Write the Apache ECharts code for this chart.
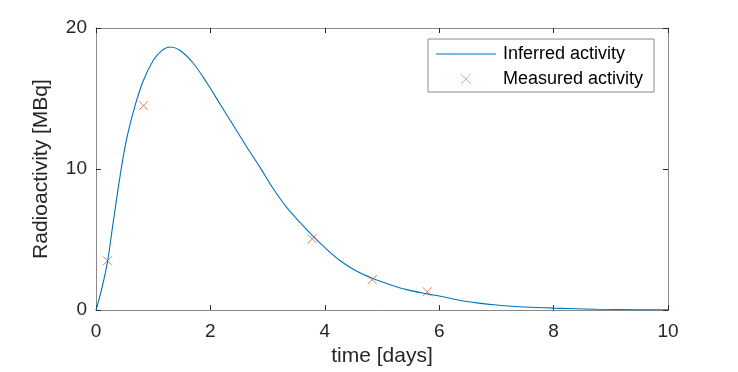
<!DOCTYPE html>
<html>
<head>
<meta charset="utf-8">
<script src="https://cdn.jsdelivr.net/npm/echarts@6/dist/echarts.min.js"></script>
<style>html,body{margin:0;padding:0;background:#fff;}#c{width:738px;height:372px;}</style>
</head>
<body>
<div id="c"></div>
<script>
// Inferred activity curve
var curveTime = [0, 0.1, 0.2, 0.3, 0.44, 0.55, 0.69, 0.83, 1.0, 1.15, 1.3, 1.47, 1.7, 1.94, 2.17, 2.4, 2.63, 2.87, 3.1, 3.33, 3.57, 3.78, 3.97, 4.27, 4.56, 4.83, 5.14, 5.43, 5.79, 6.0, 6.42, 7.0, 7.5, 8.0, 8.75, 9.5, 10];
var curveActivity = [0, 1.5, 3.4, 6.2, 10.0, 12.4, 14.6, 16.3, 17.7, 18.4, 18.65, 18.4, 17.5, 16.1, 14.6, 13.1, 11.6, 10.1, 8.6, 7.3, 6.2, 5.3, 4.55, 3.5, 2.75, 2.25, 1.8, 1.45, 1.15, 1.0, 0.65, 0.36, 0.22, 0.14, 0.06, 0.03, 0.02];
// Measured activity points
var measTime = [0.2, 0.83, 3.78, 4.83, 5.79];
var measActivity = [3.5, 14.5, 5.05, 2.15, 1.3];
// Axis ticks
var xTicks = [0, 2, 4, 6, 8, 10];
var yTicks = [0, 10, 20];

var curveData = curveTime.map(function (t, i) { return [t, curveActivity[i]]; });
var measData = measTime.map(function (t, i) { return [t, measActivity[i]]; });

var FONT = '"Liberation Sans", Helvetica, Arial, sans-serif';
var axisLineStyle = { color: '#8a8a8a', width: 1 };
var tickStyle = { color: '#262626', width: 1 };

var chart = echarts.init(document.getElementById('c'), null, { renderer: 'canvas' });
chart.setOption({
  animation: false,
  backgroundColor: '#ffffff',
  grid: { left: 96, right: 70, top: 28, bottom: 61, containLabel: false },
  xAxis: [{
    type: 'value', min: xTicks[0], max: xTicks[xTicks.length - 1], interval: 2,
    position: 'bottom',
    name: 'time [days]', nameLocation: 'middle', nameGap: 33,
    nameTextStyle: { fontFamily: FONT, fontSize: 21, color: '#262626' },
    axisLine: { show: true, onZero: false, lineStyle: axisLineStyle },
    axisTick: { show: true, inside: true, length: 5, lineStyle: tickStyle },
    axisLabel: { fontFamily: FONT, fontSize: 19, color: '#262626', margin: 12 },
    splitLine: { show: false }
  }, {
    type: 'value', min: xTicks[0], max: xTicks[xTicks.length - 1], interval: 2,
    position: 'top',
    axisLine: { show: true, onZero: false, lineStyle: axisLineStyle },
    axisTick: { show: true, inside: true, length: 5, lineStyle: tickStyle },
    axisLabel: { show: false },
    splitLine: { show: false }
  }],
  yAxis: [{
    type: 'value', min: yTicks[0], max: yTicks[yTicks.length - 1], interval: 10,
    position: 'left',
    name: 'Radioactivity [MBq]', nameLocation: 'middle', nameGap: 44,
    nameTextStyle: { fontFamily: FONT, fontSize: 21, color: '#262626' },
    axisLine: { show: true, onZero: false, lineStyle: axisLineStyle },
    axisTick: { show: true, inside: true, length: 5, lineStyle: tickStyle },
    axisLabel: { fontFamily: FONT, fontSize: 19, color: '#262626', margin: 9 },
    splitLine: { show: false }
  }, {
    type: 'value', min: yTicks[0], max: yTicks[yTicks.length - 1], interval: 10,
    position: 'right',
    axisLine: { show: true, onZero: false, lineStyle: axisLineStyle },
    axisTick: { show: true, inside: true, length: 5, lineStyle: tickStyle },
    axisLabel: { show: false },
    splitLine: { show: false }
  }],
  legend: {
    orient: 'vertical',
    left: 428, top: 39,
    padding: [6, 11, 4, 8],
    itemGap: 7,
    itemWidth: 60, itemHeight: 10,
    backgroundColor: '#ffffff',
    borderColor: '#8a8a8a', borderWidth: 1, borderRadius: 0,
    textStyle: { fontFamily: FONT, fontSize: 18, color: '#000000', padding: [0, 0, 0, 2] },
    data: [
      { name: 'Inferred activity', icon: 'path://M0,0L60,0L60,1.1L0,1.1Z', itemStyle: { color: '#0072BD', borderWidth: 0 } },
      { name: 'Measured activity', itemStyle: { color: '#D95319', borderColor: '#D95319', borderWidth: 0.6 } }
    ]
  },
  series: [{
    name: 'Inferred activity',
    type: 'line',
    data: curveData,
    showSymbol: false,
    symbol: 'none',
    smooth: 0.35,
    lineStyle: { color: '#0072BD', width: 1.1 },
    itemStyle: { color: '#0072BD' },
    z: 2
  }, {
    name: 'Measured activity',
    type: 'scatter',
    data: measData,
    symbol: 'path://M0,0L10,10M10,0L0,10',
    symbolSize: 9,
    itemStyle: { color: '#D95319', borderColor: '#D95319', borderWidth: 0.9 },
    z: 3
  }]
});
</script>
</body>
</html>
